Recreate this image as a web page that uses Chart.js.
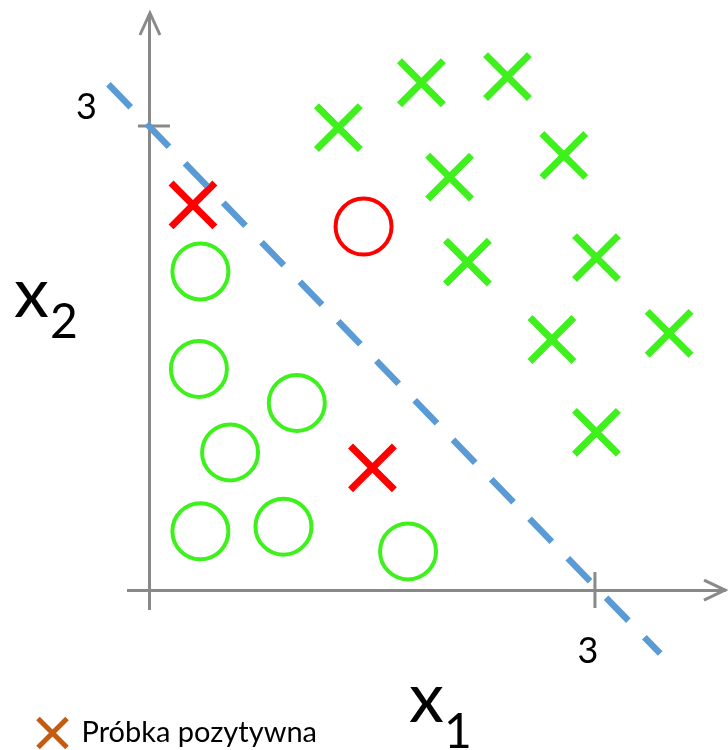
<!DOCTYPE html>
<html>
<head>
<meta charset="utf-8">
<script src="https://cdn.jsdelivr.net/npm/chart.js@4.4.1/dist/chart.umd.min.js"></script>
<style>
  html, body { margin: 0; padding: 0; background: #ffffff; }
  #wrap { width: 728px; height: 750px; position: relative; }
  canvas { display: block; }
</style>
</head>
<body>
<div id="wrap"><canvas id="c" width="728" height="750"></canvas></div>
<script>
// ---- data ----
const xTicks = [3];
const yTicks = [3];
// positive samples (green crosses)
const posX = [1.27, 1.83, 2.41, 2.02, 2.79, 2.14, 3.01, 2.71, 3.50, 3.01];
const posY = [2.99, 3.28, 3.32, 2.67, 2.81, 2.12, 2.15, 1.62, 1.66, 1.02];
// red crosses
const redCrossX = [0.29, 1.50];
const redCrossY = [2.49, 0.79];
// negative samples (green circles)
const negX = [0.34, 0.33, 0.99, 0.54, 0.34, 0.90, 1.74];
const negY = [2.06, 1.43, 1.21, 0.89, 0.38, 0.41, 0.25];
// red circle
const redCircleX = [1.44];
const redCircleY = [2.35];
// decision boundary x1 + x2 = 3 (dashed)
const boundaryX = [-0.28, 3.44];
const boundaryY = [3.27, -0.41];
const legendLabel = 'Próbka pozytywna';
const xTitle = ['x', '1'];
const yTitle = ['x', '2'];

// axis ranges
const X_MIN = -0.148, X_MAX = 3.870;
const Y_MIN = -0.116, Y_MAX = 3.718;

const GREEN = '#3ef01c';
const RED = '#ff0000';
const BLUE = '#5b9bd5';
const AXIS = '#898989';
const ORANGE = '#c55a11';
const FONT = 'Lato, "Open Sans", sans-serif';

const pts = (xs, ys) => xs.map((x, i) => ({ x, y: ys[i] }));
const noPad = (s) => { s.paddingTop = 0; s.paddingBottom = 0; s.paddingLeft = 0; s.paddingRight = 0; };

const axisDecor = {
  id: 'axisDecor',
  beforeDatasetsDraw(chart) {
    const { ctx, chartArea: a, scales: { x, y } } = chart;
    const ox = x.getPixelForValue(0), oy = y.getPixelForValue(0);
    ctx.save();
    ctx.strokeStyle = AXIS;
    ctx.lineWidth = 3;
    ctx.lineCap = 'butt';
    ctx.lineJoin = 'miter';
    ctx.beginPath();
    ctx.moveTo(a.right - 20, oy - 10); ctx.lineTo(a.right + 1, oy); ctx.lineTo(a.right - 20, oy + 10);
    ctx.moveTo(ox - 10, a.top + 20); ctx.lineTo(ox, a.top - 2); ctx.lineTo(ox + 10, a.top + 20);
    ctx.stroke();
    ctx.beginPath();
    x.ticks.forEach(t => {
      const px = x.getPixelForValue(t.value);
      ctx.moveTo(px, oy - 18); ctx.lineTo(px, oy + 18);
    });
    y.ticks.forEach(t => {
      const py = y.getPixelForValue(t.value);
      ctx.moveTo(ox - 12, py); ctx.lineTo(ox + 20, py);
    });
    ctx.stroke();
    ctx.restore();
  },
  afterDraw(chart) {
    const { ctx } = chart;
    ctx.save();
    ctx.fillStyle = '#000';
    ctx.textBaseline = 'alphabetic';
    ctx.textAlign = 'left';
    ctx.font = '70px ' + FONT;
    ctx.fillText(xTitle[0], 409, 722);
    ctx.fillText(yTitle[0], 14, 317);
    ctx.font = '48px ' + FONT;
    ctx.fillText(xTitle[1], 444, 748);
    ctx.fillText(yTitle[1], 50, 338);
    ctx.restore();
  }
};

new Chart(document.getElementById('c'), {
  type: 'scatter',
  data: {
    datasets: [
      {
        type: 'line',
        data: pts(boundaryX, boundaryY),
        borderColor: BLUE,
        borderWidth: 6.5,
        borderDash: [32, 23],
        borderCapStyle: 'butt',
        pointRadius: 0,
        fill: false,
        tension: 0,
        clip: false
      },
      {
        data: pts(posX, posY),
        pointStyle: 'crossRot',
        pointRadius: 31,
        borderColor: GREEN,
        backgroundColor: GREEN,
        borderWidth: 7
      },
      {
        data: pts(redCrossX, redCrossY),
        pointStyle: 'crossRot',
        pointRadius: 31,
        borderColor: RED,
        backgroundColor: RED,
        borderWidth: 7
      },
      {
        data: pts(negX, negY),
        pointStyle: 'circle',
        pointRadius: 28,
        borderColor: GREEN,
        backgroundColor: 'rgba(0,0,0,0)',
        borderWidth: 4
      },
      {
        data: pts(redCircleX, redCircleY),
        pointStyle: 'circle',
        pointRadius: 28,
        borderColor: RED,
        backgroundColor: 'rgba(0,0,0,0)',
        borderWidth: 4
      }
    ]
  },
  options: {
    responsive: false,
    animation: false,
    events: [],
    devicePixelRatio: 1,
    layout: { autoPadding: false, padding: { left: -72.5, right: 4, top: 15, bottom: -7.5 } },
    scales: {
      x: {
        type: 'linear',
        min: X_MIN, max: X_MAX,
        position: { y: 0 },
        afterBuildTicks(s) { s.ticks = xTicks.map(v => ({ value: v })); },
        afterFit: noPad,
        grid: { display: false, drawTicks: false, lineWidth: 3 },
        border: { display: true, color: AXIS, width: 3 },
        ticks: {
          padding: 40, labelOffset: -7, maxRotation: 0,
          color: '#000',
          font: { family: FONT, size: 36, lineHeight: 1.2 }
        }
      },
      y: {
        type: 'linear',
        min: Y_MIN, max: Y_MAX,
        position: { x: 0 },
        afterBuildTicks(s) { s.ticks = yTicks.map(v => ({ value: v })); },
        afterFit: noPad,
        grid: { display: false, drawTicks: false, lineWidth: 3 },
        border: { display: true, color: AXIS, width: 3 },
        ticks: { display: false }
      },
      y2: {
        type: 'linear',
        min: Y_MIN, max: Y_MAX,
        position: 'left',
        afterFit(s) { noPad(s); s.width = 200.5; },
        afterBuildTicks(s) { s.ticks = yTicks.map(v => ({ value: v })); },
        grid: { display: false, drawTicks: true, tickLength: 31 },
        border: { display: false },
        ticks: {
          padding: 0, labelOffset: -19,
          color: '#000',
          font: { family: FONT, size: 36, lineHeight: 0.5 }
        }
      }
    },
    plugins: {
      tooltip: { enabled: false },
      legend: {
        position: 'bottom',
        align: 'start',
        labels: {
          usePointStyle: true,
          padding: 110.5,
          color: '#000',
          font: { family: FONT, size: 29 },
          generateLabels: () => [{
            text: legendLabel,
            pointStyle: 'crossRot',
            strokeStyle: ORANGE,
            fillStyle: ORANGE,
            lineWidth: 5,
            hidden: false
          }]
        }
      }
    }
  },
  plugins: [axisDecor]
});
</script>
</body>
</html>
